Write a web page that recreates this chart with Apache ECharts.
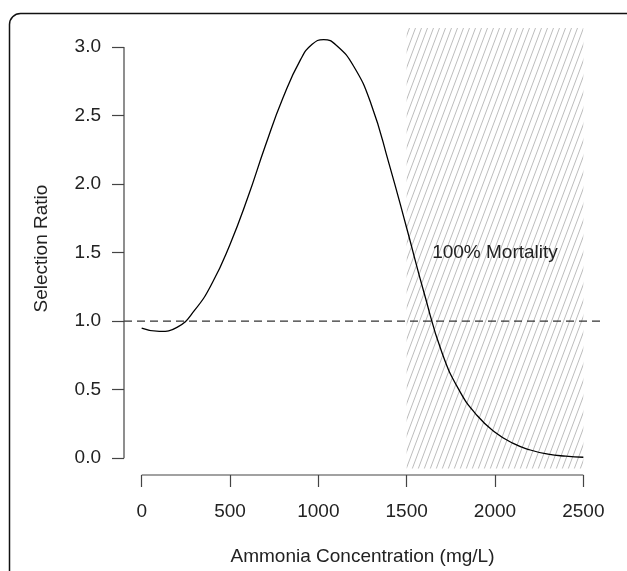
<!DOCTYPE html>
<html>
<head>
<meta charset="utf-8">
<script src="https://cdn.jsdelivr.net/npm/echarts@6/dist/echarts.min.js"></script>
<style>
  html, body { margin: 0; padding: 0; background: #fff; }
  #chart { width: 627px; height: 571px; }
</style>
</head>
<body>
<div id="chart"></div>
<script>
// selection ratio curve (extra points around the peak)
const CONCENTRATION = [0, 100, 200, 300, 400, 500, 600, 700, 800, 900, 965, 1030, 1100, 1200, 1300, 1400, 1500, 1600, 1700, 1800, 1900, 2000, 2100, 2200, 2300, 2400, 2500]
const SELECTION_RATIO = [0.95, 0.925, 0.955, 1.08, 1.28, 1.56, 1.90, 2.28, 2.63, 2.91, 3.02, 3.055, 3.015, 2.86, 2.58, 2.15, 1.68, 1.20, 0.77, 0.49, 0.31, 0.19, 0.11, 0.06, 0.03, 0.015, 0.007]

const X_TICKS = [0, 500, 1000, 1500, 2000, 2500]
const Y_TICKS = [0, 0.5, 1, 1.5, 2, 2.5, 3]
const X_RANGE = [-100, 2600]
const Y_RANGE = [-0.1224, 3.1824]

const REFERENCE_RATIO = 1
const MORTALITY_X = [1500, 2500]
const MORTALITY_Y = [-0.075, 3.14]
const MORTALITY_LABEL = '100% Mortality'
const MORTALITY_LABEL_AT = [2000, 1.5]

const FONT = '"Liberation Sans", Arial, Helvetica, sans-serif'
const AXIS_COLOR = '#444'
const TEXT_COLOR = '#222'

// small tile of steep grey hatch lines
function makeHatch() {
  const w = 6
  const h = 16
  const c = document.createElement('canvas')
  c.width = w
  c.height = h
  const ctx = c.getContext('2d')
  ctx.strokeStyle = '#bdbdbd'
  ctx.lineWidth = 1
  for (const dx of [-w, 0, w]) {
    ctx.beginPath()
    ctx.moveTo(dx, h)
    ctx.lineTo(dx + w, 0)
    ctx.stroke()
  }
  return c
}

const chart = echarts.init(document.getElementById('chart'))
const curve = CONCENTRATION.map((x, i) => [x, SELECTION_RATIO[i]])

chart.setOption({
  animation: false,
  textStyle: { fontFamily: FONT },
  graphic: [
    {
      type: 'rect',
      left: 7,
      top: 11,
      shape: { width: 660, height: 620, r: 11 },
      style: { fill: 'none', stroke: '#111', lineWidth: 1.5 },
      silent: true,
    },
  ],
  grid: {
    left: 124,
    right: 26,
    top: 22.1,
    bottom: 92.4,
  },
  xAxis: {
    type: 'value',
    min: X_RANGE[0],
    max: X_RANGE[1],
    name: 'Ammonia Concentration (mg/L)',
    nameLocation: 'middle',
    nameGap: 72,
    nameTextStyle: { color: TEXT_COLOR, fontSize: 19, fontFamily: FONT },
    axisLine: { show: false, onZero: false },
    splitLine: { show: false },
    axisTick: {
      show: true,
      inside: false,
      length: 12,
      customValues: X_TICKS,
      lineStyle: { color: AXIS_COLOR, width: 1.2 },
    },
    axisLabel: {
      customValues: X_TICKS,
      margin: 27,
      color: TEXT_COLOR,
      fontSize: 19,
      fontFamily: FONT,
      formatter: (v) => String(v),
    },
  },
  yAxis: {
    type: 'value',
    min: Y_RANGE[0],
    max: Y_RANGE[1],
    name: 'Selection Ratio',
    nameLocation: 'middle',
    nameGap: 73,
    nameTextStyle: { color: TEXT_COLOR, fontSize: 19, fontFamily: FONT },
    axisLine: { show: false, onZero: false },
    splitLine: { show: false },
    axisTick: {
      show: true,
      inside: false,
      length: 12,
      customValues: Y_TICKS,
      lineStyle: { color: AXIS_COLOR, width: 1.2 },
    },
    axisLabel: {
      customValues: Y_TICKS,
      margin: 23,
      color: TEXT_COLOR,
      fontSize: 19,
      fontFamily: FONT,
      formatter: (v) => v.toFixed(1),
    },
  },
  series: [
    {
      name: 'mortality',
      type: 'line',
      data: [],
      silent: true,
      markArea: {
        silent: true,
        itemStyle: { color: { image: makeHatch(), repeat: 'repeat' } },
        data: [[{ coord: [MORTALITY_X[0], MORTALITY_Y[0]] }, { coord: [MORTALITY_X[1], MORTALITY_Y[1]] }]],
      },
    },
    {
      name: 'reference',
      type: 'line',
      data: [[X_RANGE[0], REFERENCE_RATIO], [X_RANGE[1], REFERENCE_RATIO]],
      symbol: 'none',
      silent: true,
      lineStyle: { color: '#333', width: 1.2, type: [8, 5] },
    },
    {
      name: 'Selection Ratio',
      type: 'line',
      data: curve,
      symbol: 'none',
      smooth: 0.5,
      silent: true,
      lineStyle: { color: '#000', width: 1.3 },
      markPoint: {
        silent: true,
        symbol: 'circle',
        symbolSize: 0,
        data: [{ coord: MORTALITY_LABEL_AT }],
        label: {
          show: true,
          position: 'inside',
          formatter: MORTALITY_LABEL,
          color: TEXT_COLOR,
          fontSize: 19,
          fontFamily: FONT,
        },
      },
    },
    // R-style axis lines that stop at the outer ticks
    {
      name: 'y axis line',
      type: 'line',
      data: [[X_RANGE[0], Y_TICKS[0]], [X_RANGE[0], Y_TICKS[Y_TICKS.length - 1]]],
      symbol: 'none',
      clip: false,
      silent: true,
      lineStyle: { color: AXIS_COLOR, width: 1.2 },
    },
    {
      name: 'x axis line',
      type: 'line',
      data: [[X_TICKS[0], Y_RANGE[0]], [X_TICKS[X_TICKS.length - 1], Y_RANGE[0]]],
      symbol: 'none',
      clip: false,
      silent: true,
      lineStyle: { color: AXIS_COLOR, width: 1.2 },
    },
  ],
})
</script>
</body>
</html>
